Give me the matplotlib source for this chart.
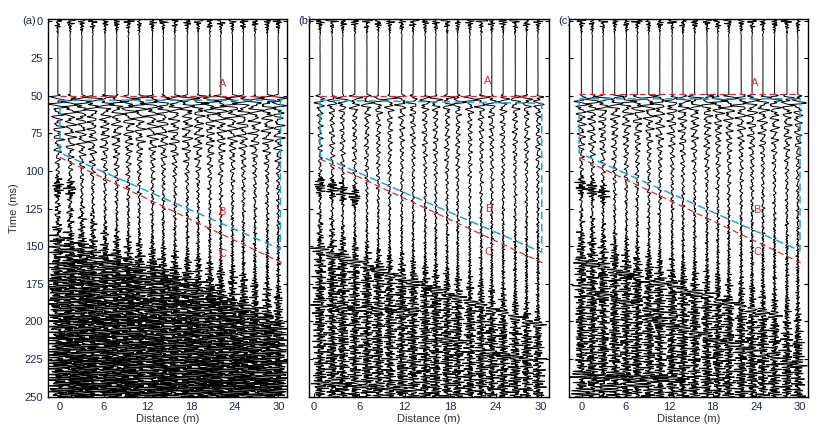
import numpy as np
import matplotlib
matplotlib.use("Agg")
import matplotlib.pyplot as plt

plt.rcParams['font.family'] = ['Liberation Sans', 'DejaVu Sans']

# ── Data ─────────────────────────────────────────────────────────────────────
# trace offsets (m) per panel
OFFSETS_A = [-0.3, 1.4, 3.0, 4.5, 6.2, 7.8, 9.4, 10.9, 12.7, 14.2,
             15.8, 17.5, 19.0, 20.6, 22.1, 23.7, 25.2, 26.8, 28.5, 30.0]
OFFSETS_B = [0.8, 2.4, 3.8, 5.4, 7.0, 8.5, 10.0, 11.6, 13.1, 14.7,
             16.1, 17.6, 19.0, 20.6, 22.1, 23.5, 25.0, 26.6, 28.1, 29.6]
OFFSETS_C = [-0.1, 1.4, 2.9, 4.5, 6.1, 7.6, 9.2, 10.7, 12.4, 13.9,
             15.5, 17.2, 18.7, 20.2, 21.9, 23.4, 24.9, 26.5, 28.2, 29.7]

# early part of the wiggle envelope (ms, amplitude in m)
ENV_T = [0, 2, 5, 9, 14, 49, 50.5, 56, 60, 66, 80, 90, 105, 120]
ENV_AMP_A = [1.1, 0.7, 0.35, 0.08, 0.01, 0.01, 1.8, 1.8, 1.4, 1.1, 1.0, 0.6, 0.45, 0.38]
ENV_AMP_B = [1.1, 0.7, 0.35, 0.08, 0.01, 0.01, 1.3, 1.1, 0.65, 0.45, 0.45, 0.38, 0.35, 0.32]
ENV_AMP_C = [1.1, 0.7, 0.35, 0.08, 0.01, 0.01, 1.6, 1.5, 1.1, 0.9, 0.65, 0.45, 0.4, 0.36]

# onset of thick traces and of overlapping (black) energy, per trace (ms)
THICK_A = [125, 125, 128, 132, 140, 145, 148, 150, 152, 155,
           157, 160, 162, 165, 168, 170, 173, 177, 180, 183]
FILL_A = [145, 148, 150, 155, 158, 160, 162, 164, 166, 170,
          172, 175, 180, 183, 186, 190, 193, 196, 200, 205]
THICK_B = [132, 136, 142, 148, 152, 156, 158, 160, 163, 166,
           168, 170, 173, 176, 178, 181, 184, 188, 193, 198]
FILL_B = [150, 152, 156, 160, 164, 168, 170, 173, 176, 180,
          183, 186, 190, 194, 198, 202, 205, 208, 212, 216]
THICK_C = [132, 135, 140, 146, 150, 154, 157, 160, 162, 165,
           167, 170, 172, 175, 178, 180, 183, 187, 191, 196]
FILL_C = [148, 150, 154, 158, 162, 166, 168, 171, 174, 178,
          181, 184, 188, 192, 196, 200, 203, 206, 210, 214]

# late amplitude levels: (quiet, thick, fill, bottom)
LEVELS_A = [0.38, 0.9, 2.1, 2.8]
LEVELS_B = [0.32, 0.7, 1.2, 1.35]
LEVELS_C = [0.36, 0.7, 1.2, 1.4]

# early bursts on the first traces: (trace index, centre ms)
BLOBS_A = [(0, 111), (1, 112)]
BLOBS_B = [(0, 110), (1, 112), (2, 114), (3, 117)]
BLOBS_C = [(0, 110), (1, 112), (2, 115)]

# linear coherent events (x0 m, t0 ms, x1 m, t1 ms, amplitude)
EVENTS_A = [(0, 150, 30, 205, 0.6)]
EVENTS_B = [(0, 151, 30, 203, 0.9), (0, 190, 13, 193, 0.8),
            (17, 212, 30, 228, 0.8), (0, 240, 13, 245, 0.9)]
EVENTS_C = [(0, 160, 27, 197, 0.9), (9, 197, 30, 230, 0.9),
            (0, 178, 12, 196, 0.8), (0, 236, 12, 238, 1.4),
            (0, 247, 12.5, 238, 1.0)]

# dashed guide lines (m, ms)
LINE_A = {"a": ([0, 30], [50, 50]), "b": ([0.8, 29.5], [50, 50]), "c": ([-0.4, 29.5], [49, 49])}
LINE_C = {"a": ([0, 30.5], [91, 161]), "b": ([0.8, 30.2], [92, 161]), "c": ([-0.4, 30.1], [91, 161])}
BOX_B = {"a": ([0, 30.3, 30.3, 0, 0], [53, 53, 152, 88, 53]),
         "b": ([0.8, 30.1, 30.1, 0.8, 0.8], [53, 55, 154, 90, 53]),
         "c": ([-0.4, 30.0, 30.0, -0.4, -0.4], [52, 52, 153, 88, 52])}
LETTERS = {"a": [("A", 22.3, 42), ("B", 22.3, 127), ("C", 22.3, 155)],
           "b": [("A", 23.0, 40), ("B", 23.1, 125), ("C", 23.1, 154)],
           "c": [("A", 23.8, 41.5), ("B", 24.1, 126), ("C", 24.1, 154)]}

X_TICKS = [0, 6, 12, 18, 24, 30]
Y_TICKS = [0, 25, 50, 75, 100, 125, 150, 175, 200, 225, 250]

RED = "#e8262e"
BLUE = "#1ea5de"
TICK_COLOR = "#1c2b4a"

t = np.arange(0, 250.01, 0.2)


def high_band(phi):
    return (0.35 * np.sin(2 * np.pi * 0.53 * t + 3.1 * phi)
            + 0.3 * np.sin(2 * np.pi * 0.79 * t + 1.3 * phi)
            + 0.2 * np.sin(2 * np.pi * 1.07 * t + 2.9 * phi)
            + 0.15 * np.sin(2 * np.pi * 1.49 * t + 0.7 * phi))


def carrier(phi):
    # low band dominates early, high band dominates late
    low = (0.5 * np.sin(2 * np.pi * 0.23 * t + phi)
           + 0.3 * np.sin(2 * np.pi * 0.37 * t + 1.7 * phi)
           + 0.2 * np.sin(2 * np.pi * 0.61 * t + 2.3 * phi))
    w = np.clip((t - 90) / 80, 0, 1)
    w[t < 8] = 1.0
    c = (1 - w) * low + w * high_band(phi)
    return c * (0.6 + 0.4 * np.abs(np.sin(2 * np.pi * 0.06 * t + 0.5 * phi)))


def trace(k, x, env_amp, thick, fill, levels, blobs, events, seed_phase):
    quiet, thick_lv, fill_lv, bottom_lv = levels
    nt = ENV_T + [thick[k] - 8, thick[k], fill[k] - 10, fill[k], 250]
    nv = env_amp + [quiet, thick_lv, thick_lv, fill_lv, bottom_lv]
    env = np.interp(t, nt, nv)
    phi = seed_phase + k * 2.39996
    s = env * carrier(phi)
    for bk, bt in blobs:
        if bk == k:
            s += 1.2 * np.exp(-((t - bt) / 6) ** 2) * high_band(phi + 0.9)
    for x0, t0, x1, t1, amp in events:
        if x0 - 0.8 <= x <= x1 + 0.8:
            te = t0 + (t1 - t0) * (x - x0) / (x1 - x0)
            s += amp * np.exp(-((t - te) / 2.0) ** 2) * np.cos(2 * np.pi * 0.45 * (t - te))
    return s


fig = plt.figure(figsize=(8.28, 4.36), dpi=100)
panels = [
    ("a", [48 / 828, 39.3 / 436, 239 / 828, 377.4 / 436], (-1.65, 31.2), OFFSETS_A,
     ENV_AMP_A, THICK_A, FILL_A, LEVELS_A, BLOBS_A, EVENTS_A, 0.0),
    ("b", [309 / 828, 39.3 / 436, 240 / 828, 377.4 / 436], (-0.66, 31.06), OFFSETS_B,
     ENV_AMP_B, THICK_B, FILL_B, LEVELS_B, BLOBS_B, EVENTS_B, 1.3),
    ("c", [569 / 828, 39.3 / 436, 239 / 828, 377.4 / 436], (-1.8, 31.1), OFFSETS_C,
     ENV_AMP_C, THICK_C, FILL_C, LEVELS_C, BLOBS_C, EVENTS_C, 2.7),
]

for name, rect, xlim, offs, env_amp, thick, fill, levels, blobs, events, ph in panels:
    ax = fig.add_axes(rect)
    for k, x in enumerate(offs):
        s = trace(k, x, env_amp, thick, fill, levels, blobs, events, ph)
        ax.plot(x + s, t, color="black", lw=0.7)

    ax.plot(*LINE_A[name], color=RED, lw=0.9, ls=(0, (5, 3)))
    ax.plot(*LINE_C[name], color=RED, lw=0.9, ls=(0, (5, 3)))
    ax.plot(*BOX_B[name], color=BLUE, lw=1.1, ls=(0, (5, 3)))
    for letter, lx, ly in LETTERS[name]:
        ax.text(lx, ly, letter, color=RED, fontsize=8, ha="center", va="center")

    ax.set_xlim(*xlim)
    ax.set_ylim(250, -0.8)
    ax.set_xticks(X_TICKS)
    ax.set_yticks(Y_TICKS)
    ax.tick_params(direction="in", length=3, width=0.8, colors="black",
                   labelcolor=TICK_COLOR, labelsize=8, left=True, right=True)
    if name != "a":
        ax.set_yticklabels([])
    else:
        ax.set_ylabel("Time (ms)", fontsize=8, color="#333333", labelpad=4)
    ax.set_xlabel("Distance (m)", fontsize=8, color="#333333", labelpad=2)
    for sp in ax.spines.values():
        sp.set_linewidth(1.0)
    fig.text(rect[0] - (26 if name == "a" else 11) / 828, 1 - 21 / 436,
             f"({name})", fontsize=8, color=TICK_COLOR, ha="left", va="center")

fig.savefig("out.png", dpi=100)
